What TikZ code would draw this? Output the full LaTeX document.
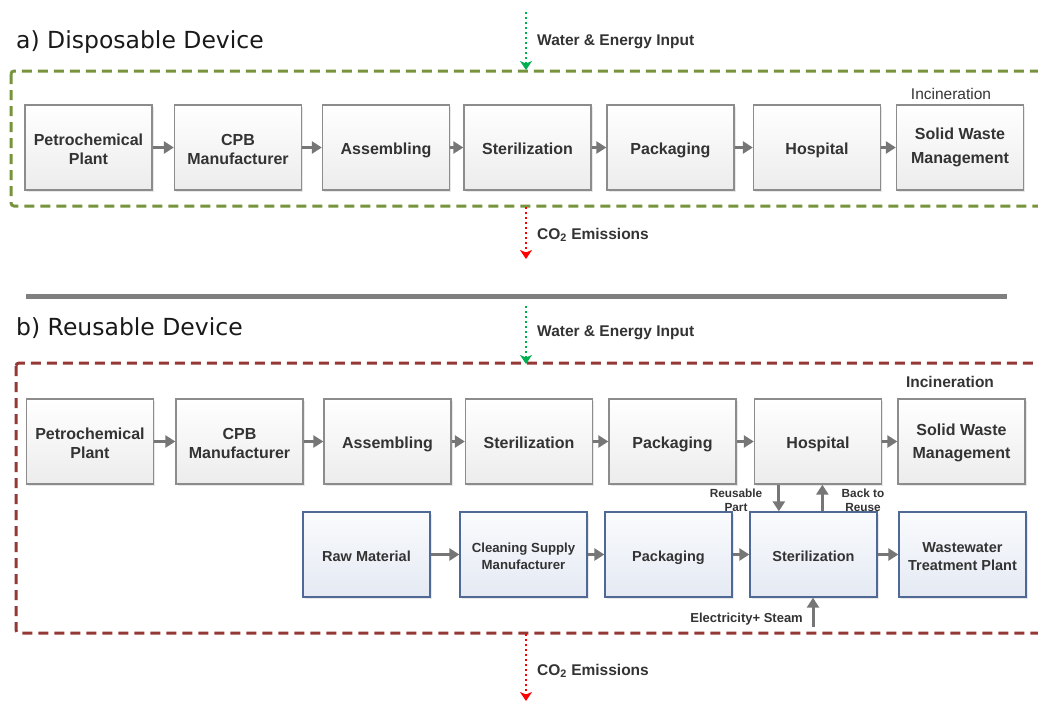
\documentclass[tikz,border=0pt]{standalone}
\usepackage{fontspec}
\setmainfont{Liberation Sans}
\newfontfamily\titlefont{DejaVu Sans}
\usetikzlibrary{arrows.meta,shadows,calc}
\definecolor{txt}{RGB}{51,51,51}
\definecolor{boxline}{RGB}{140,140,140}
\definecolor{boxbot}{RGB}{236,236,236}
\definecolor{blueline}{RGB}{79,105,150}
\definecolor{bluebot}{RGB}{228,233,243}
\definecolor{bluetop}{RGB}{250,251,253}
\definecolor{flowgray}{RGB}{118,118,118}
\definecolor{frameolive}{RGB}{119,147,60}
\definecolor{framered}{RGB}{149,55,53}
\definecolor{ingreen}{RGB}{0,176,80}
\definecolor{outred}{RGB}{255,0,0}
\definecolor{sepgray}{RGB}{127,127,127}
% invisible struts that place the text inside its box
\newcommand\topfix[1]{\rule{0pt}{#1}}
\newcommand\botfix[1]{\rule[-#1]{0pt}{#1}}

\begin{document}
\begin{tikzpicture}[x=1pt,y=-1pt,
  graybox/.style={rectangle, draw=boxline, line width=1.3pt,
    top color=white, bottom color=boxbot,
    minimum width=127pt, minimum height=85pt, inner sep=0pt,
    align=center, text=txt, font=\bfseries\fontsize{16}{19}\selectfont,
    drop shadow={shadow xshift=1.5pt, shadow yshift=-1.5pt, opacity=0.18}},
  bluebox/.style={graybox, draw=blueline, top color=bluetop, bottom color=bluebot,
    font=\bfseries\fontsize{14.5}{17.5}\selectfont},
  flow/.style={draw=flowgray, line width=3pt, -{Triangle[length=10pt,width=12pt]}},
  inflow/.style={draw=ingreen, line width=2pt, dash pattern=on 2pt off 3pt,
    -{Stealth[length=9pt,width=12pt,inset=2.5pt]}},
  outflow/.style={inflow, draw=outred},
  frame/.style={line width=3pt, dash pattern=on 10pt off 6pt, rounded corners=3pt},
  lbl/.style={text=txt, font=\bfseries\fontsize{15.5}{18}\selectfont, inner sep=0pt},
  small/.style={text=txt, font=\bfseries\fontsize{11.8}{14}\selectfont, inner sep=0pt, align=center},
  ttl/.style={text=black!90, font=\titlefont\fontsize{23.5}{28}\selectfont, inner sep=0pt, anchor=west}
]
\useasboundingbox (0,0) rectangle (1038,702);

% ---------- a) disposable device ----------
\node[ttl] (ta) at (16,42) {a) Disposable Device};
\draw[frame, draw=frameolive] (11,71) rectangle (1050,206);

\node[graybox] (a1) at (88.5,147.5) {\topfix{18.8pt}Petrochemical\\Plant\botfix{3.4pt}};
\node[graybox] (a2) at (238,147.5) {\topfix{18.8pt}CPB\\Manufacturer\botfix{3.4pt}};
\node[graybox] (a3) at (386,147.5) {\topfix{17.8pt}Assembling\botfix{3.4pt}};
\node[graybox] (a4) at (527.5,147.5) {\topfix{17.8pt}Sterilization\botfix{3.4pt}};
\node[graybox] (a5) at (670.5,147.5) {\topfix{17.8pt}Packaging\botfix{3.4pt}};
\node[graybox] (a6) at (817,147.5) {\topfix{17.8pt}Hospital\botfix{3.4pt}};
\node[graybox] (a7) at (960,147.5) {\topfix{12pt}Solid Waste\\[5pt]Management\botfix{3.4pt}};
\node[text=txt, font=\fontsize{15.5}{18}\selectfont, inner sep=0pt] (ia) at (951,94) {Incineration};

\foreach \s/\t in {a1/a2,a2/a3,a3/a4,a4/a5,a5/a6,a6/a7}
  \draw[flow] (\s) -- (\t);

\coordinate (wa0) at (526,12);
\coordinate (wa1) at (526,70);
\draw[inflow] (wa0) -- (wa1);
\node[lbl, anchor=west] (wla) at (537,42) {Water \& Energy Input};

\coordinate (ca0) at (526,207);
\coordinate (ca1) at (526,259);
\draw[outflow] (ca0) -- (ca1);
\node[lbl, anchor=west] (cla) at (537,235) {CO\textsubscript{2} Emissions};

% ---------- separator ----------
\coordinate (sp0) at (26,296);
\coordinate (sp1) at (1007,296);
\draw[sepgray, line width=5pt] (sp0) -- (sp1);

% ---------- b) reusable device ----------
\node[ttl] (tb) at (16,328) {b) Reusable Device};
\draw[frame, draw=framered] (16,363) rectangle (1050,633);

\node[graybox] (b1) at (90,441.5) {\topfix{18.8pt}Petrochemical\\Plant\botfix{3.4pt}};
\node[graybox] (b2) at (239.5,441.5) {\topfix{18.8pt}CPB\\Manufacturer\botfix{3.4pt}};
\node[graybox] (b3) at (387.5,441.5) {\topfix{17.8pt}Assembling\botfix{3.4pt}};
\node[graybox] (b4) at (529,441.5) {\topfix{17.8pt}Sterilization\botfix{3.4pt}};
\node[graybox] (b5) at (672.5,441.5) {\topfix{17.8pt}Packaging\botfix{3.4pt}};
\node[graybox] (b6) at (818,441.5) {\topfix{17.8pt}Hospital\botfix{3.4pt}};
\node[graybox] (b7) at (961.5,441.5) {\topfix{14pt}Solid Waste\\[4pt]Management\botfix{3.4pt}};
\node[lbl, font=\bfseries\fontsize{15.5}{18}\selectfont] (ib) at (950,382) {Incineration};

\foreach \s/\t in {b1/b2,b2/b3,b3/b4,b4/b5,b5/b6,b6/b7}
  \draw[flow] (\s) -- (\t);

\node[bluebox] (c1) at (366.5,554.5) {\topfix{17pt}Raw Material\botfix{3.1pt}};
\node[bluebox, font=\bfseries\fontsize{13.2}{17}\selectfont] (c2) at (523.5,554.5) {\topfix{16.6pt}Cleaning Supply\\Manufacturer\botfix{3.1pt}};
\node[bluebox] (c3) at (668.5,554.5) {\topfix{17.5pt}Packaging\botfix{3.1pt}};
\node[bluebox] (c4) at (813.5,554.5) {\topfix{17.5pt}Sterilization\botfix{3.1pt}};
\node[bluebox] (c5) at (962.5,554.5) {\topfix{17.5pt}Wastewater\\Treatment Plant\botfix{3.1pt}};

\foreach \s/\t in {c1/c2,c2/c3,c3/c4,c4/c5}
  \draw[flow] (\s) -- (\t);

% reusable part goes down to sterilization and comes back up
\coordinate (rp) at ($(b6.south west)+(25,0)$);
\draw[flow] (rp) -- (rp |- c4.north);
\coordinate (br) at ($(c4.north west)+(73,0)$);
\draw[flow] (br) -- (br |- b6.south);
\node[small] (rpl) at (736,500) {Reusable\\Part};
\node[small] (brl) at (863,500) {Back to\\Reuse};

\coordinate (el) at (813,627);
\draw[flow] (el) -- (el |- c4.south);
\node[lbl, font=\bfseries\fontsize{13}{16}\selectfont, anchor=east] (ell) at (803,619) {Electricity+ Steam};

\coordinate (wb0) at (526,306);
\coordinate (wb1) at (526,364);
\draw[inflow] (wb0) -- (wb1);
\node[lbl, anchor=west] (wlb) at (537,333) {Water \& Energy Input};

\coordinate (cb0) at (526,634);
\coordinate (cb1) at (526,701);
\draw[outflow] (cb0) -- (cb1);
\node[lbl, anchor=west] (clb) at (537,671) {CO\textsubscript{2} Emissions};
\end{tikzpicture}
\end{document}
